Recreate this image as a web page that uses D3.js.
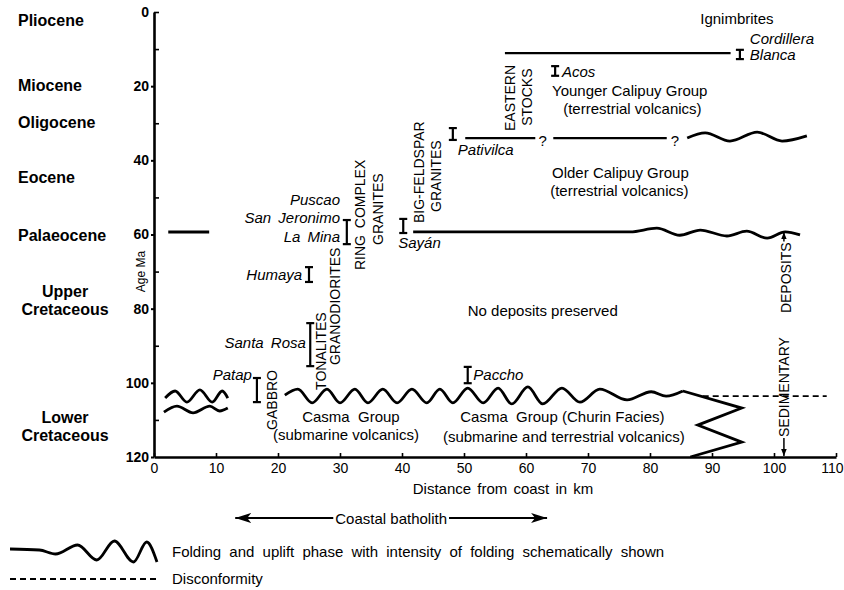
<!DOCTYPE html>
<html>
<head>
<meta charset="utf-8">
<script src="https://cdn.jsdelivr.net/npm/d3@7"></script>
<style>
  body { margin: 0; background: #fff; }
  svg text { font-family: "Liberation Sans", Arial, Helvetica, sans-serif; fill: #000; }
</style>
</head>
<body>
<div id="chart"></div>
<script>
// ---- data (km from coast, age in Ma) ----
var ageTicks = [0, 20, 40, 60, 80, 100, 120];
var ageMinor = [0, 10, 30, 50, 70, 90, 110];
var kmTicks = [0, 10, 20, 30, 40, 50, 60, 70, 80, 90, 100, 110];

var epochs = [
  {lines: ["Pliocene"], age: 3.8, center: false},
  {lines: ["Miocene"], age: 21.3, center: false},
  {lines: ["Oligocene"], age: 31.3, center: false},
  {lines: ["Eocene"], age: 46.1, center: false},
  {lines: ["Palaeocene"], age: 61.8, center: false},
  {lines: ["Upper", "Cretaceous"], age: 76.9, center: true},
  {lines: ["Lower", "Cretaceous"], age: 110.8, center: true}
];

// intrusion ages: I bars
var bars = [
  {name: "Patap", km: 16.6, from: 98.7, to: 105.2},
  {name: "Santa Rosa", km: 25.2, from: 83.9, to: 95.5},
  {name: "Humaya", km: 25.0, from: 68.8, to: 72.8},
  {name: "La Mina", km: 31.1, from: 56.1, to: 62.6},
  {name: "Sayán", km: 40.2, from: 55.8, to: 59.6},
  {name: "Pativilca", km: 48.2, from: 31.3, to: 34.5},
  {name: "Acos", km: 64.7, from: 14.6, to: 17.2},
  {name: "Cordillera Blanca", km: 94.5, from: 10.2, to: 12.7},
  {name: "Paccho", km: 50.6, from: 95.7, to: 100.1}
];

var plutonNames = [
  {text: "Patap", km: 15.8, age: 99.2, anchor: "end"},
  {text: "Santa Rosa", km: 24.5, age: 90.6, anchor: "end"},
  {text: "Humaya", km: 23.9, age: 72.3, anchor: "end"},
  {text: "Puscao", km: 30.0, age: 52.0, anchor: "end"},
  {text: "San Jeronimo", km: 30.0, age: 56.9, anchor: "end"},
  {text: "La Mina", km: 30.0, age: 62.0, anchor: "end"},
  {text: "Sayán", km: 39.4, age: 63.6, anchor: "start"},
  {text: "Pativilca", km: 49.0, age: 38.6, anchor: "start"},
  {text: "Acos", km: 65.8, age: 17.5, anchor: "start"},
  {text: "Cordillera", km: 96.1, age: 8.6, anchor: "start"},
  {text: "Blanca", km: 96.1, age: 12.9, anchor: "start"},
  {text: "Paccho", km: 51.5, age: 99.2, anchor: "start"}
];

// vertical names; "end" ones hang from their age instead of standing on it
var suites = [
  {text: "GABBRO", km: 19.0, age: 112.7, anchor: "start"},
  {text: "TONALITES", km: 26.9, age: 101.9, anchor: "start"},
  {text: "GRANODIORITES", km: 29.2, age: 95.2, anchor: "start"},
  {text: "RING COMPLEX", km: 33.2, age: 69.6, anchor: "start"},
  {text: "GRANITES", km: 36.1, age: 62.8, anchor: "start"},
  {text: "BIG-FELDSPAR", km: 42.7, age: 56.9, anchor: "start"},
  {text: "GRANITES", km: 45.5, age: 53.9, anchor: "start"},
  {text: "EASTERN", km: 57.4, age: 32.1, anchor: "start"},
  {text: "STOCKS", km: 60.2, age: 30.7, anchor: "start"},
  {text: "SEDIMENTARY", km: 101.6, age: 114.6, anchor: "start"},
  {text: "DEPOSITS", km: 101.9, age: 62.1, anchor: "end"}
];

var units = [
  {text: "Casma  Group", km: 23.9, age: 110.6},
  {text: "(submarine volcanics)", km: 19.2, age: 115.4},
  {text: "Casma  Group (Churin Facies)", km: 49.4, age: 110.6},
  {text: "(submarine and terrestrial volcanics)", km: 46.6, age: 116.0},
  {text: "No deposits preserved", km: 50.6, age: 82.0},
  {text: "Younger Calipuy Group", km: 64.2, age: 22.7},
  {text: "(terrestrial volcanics)", km: 66.0, age: 27.4},
  {text: "Older Calipuy Group", km: 64.2, age: 44.8},
  {text: "(terrestrial volcanics)", km: 63.9, age: 49.6},
  {text: "Ignimbrites", km: 88.1, age: 3.2}
];

var queries = [{km: 62.7, age: 36.0}, {km: 84.0, age: 36.0}];

// folding phases (crests and troughs) and contacts
var foldMain = [[21.1,103.3],[23.2,101.7],[25.5,105.4],[27.9,101.7],[30.0,105.4],[32.4,101.7],
  [34.5,105.4],[36.9,101.7],[39.2,105.4],[41.6,101.7],[44.0,105.4],[46.1,101.7],[48.2,105.4],
  [50.6,101.4],[53.1,105.4],[55.5,101.4],[57.7,105.7],[60.3,101.1],[62.7,105.7],[65.8,101.4],
  [68.7,105.2],[71.9,101.7],[76.3,104.6],[80.2,102.4],[82.6,103.6],[85.3,102.2]];
var foldCoastA = [[1.8,104.1],[3.4,102.2],[5.3,105.2],[7.4,101.9],[9.4,105.2],[11.0,102.2],[11.9,104.1]];
var foldCoastB = [[1.6,107.9],[3.7,106.3],[6.3,108.1],[9.0,106.3],[10.6,107.6],[11.9,106.8]];
var fold60 = [[41.8,59.3],[76.8,59.3],[81.1,58.3],[84.8,60.2],[88.1,58.8],[92.4,60.4],[95.6,59.1],
  [98.9,61.0],[101.8,59.3],[104.2,60.1]];
var fold34 = [[86.0,34.0],[88.9,32.6],[92.9,34.8],[97.3,32.4],[101.3,34.8],[105.3,33.4]];
var interfinger = [[85.3,102.2],[94.8,106.8],[87.7,111.4],[94.8,116.0],[86.5,120]];
var contacts = [
  [[2.3,59.3],[8.9,59.3]],
  [[50.2,34.0],[61.5,34.0]],
  [[64.4,34.0],[82.7,34.0]],
  [[56.6,11.1],[93.0,11.1]]
];
var disconformity = [[88.5,103.6],[108.5,103.6]];
var sediments = {km: 101.6, top: 59.4, textTop: 61.9, textBottom: 114.9, bottom: 120};
var batholith = {from: 13.1, to: 63.4};
var legendFold = [[0,3],[20,2],[31,-2],[46,7],[59,-8],[71,11],[84,-10],[93,10],[100,-10]];

// ---- drawing ----
var svg = d3.select("#chart").append("svg")
  .attr("width", 844)
  .attr("height", 590);

var defs = svg.append("defs");
defs.append("marker")
  .attr("id", "head")
  .attr("viewBox", "0 0 10 10")
  .attr("refX", 10).attr("refY", 5)
  .attr("markerWidth", 7).attr("markerHeight", 7)
  .attr("markerUnits", "userSpaceOnUse")
  .attr("orient", "auto-start-reverse")
  .append("path").attr("d", "M0,1L10,5L0,9Z").attr("fill", "#000");
defs.append("marker")
  .attr("id", "bighead")
  .attr("viewBox", "0 0 16 10")
  .attr("refX", 16).attr("refY", 5)
  .attr("markerWidth", 16).attr("markerHeight", 10)
  .attr("markerUnits", "userSpaceOnUse")
  .attr("orient", "auto-start-reverse")
  .append("path").attr("d", "M0,0L16,5L0,10L4,5Z").attr("fill", "#000");

var x = d3.scaleLinear().domain([0, 110]).range([154, 836]);
var y = d3.scaleLinear().domain([0, 120]).range([12, 457]);

// y axis
var gy = svg.append("g")
  .attr("transform", "translate(" + x(0) + ",0)")
  .call(d3.axisLeft(y).tickValues(ageTicks).tickSize(3).tickSizeOuter(0).tickPadding(2));
gy.select(".domain").attr("stroke-width", 2.6);
gy.selectAll(".tick line").attr("stroke-width", 2)
  .attr("display", function(d) { return d == 0 ? "none" : null; });
gy.selectAll(".tick text").style("font-size", "14px").style("font-weight", "bold");
svg.append("g")
  .attr("transform", "translate(" + x(0) + ",0)")
  .call(d3.axisRight(y).tickValues(ageMinor).tickSize(5).tickFormat(""))
  .call(function(g) { g.select(".domain").remove(); })
  .selectAll(".tick line").attr("stroke-width", 1.6);

// x axis
var gx = svg.append("g")
  .attr("transform", "translate(0," + y(120) + ")")
  .call(d3.axisBottom(x).tickValues(kmTicks).tickSizeInner(-4).tickSizeOuter(0).tickPadding(6));
gx.select(".domain").attr("stroke-width", 2.6);
gx.selectAll(".tick line").attr("stroke-width", 1.6);
gx.selectAll(".tick text").style("font-size", "14px")
  .attr("text-anchor", function(d) { return d == 110 ? "end" : "middle"; })
  .attr("dx", function(d) { return d == 110 ? 7 : 0; });

svg.append("text")
  .attr("x", (x(0) + x(110)) / 2 + 8)
  .attr("y", 494)
  .attr("text-anchor", "middle")
  .style("font-size", "15px")
  .style("word-spacing", "2px")
  .text("Distance from coast in km");

svg.append("text")
  .attr("transform", "translate(" + (x(0) - 9) + "," + y(70) + ") rotate(-90)")
  .attr("text-anchor", "middle")
  .style("font-size", "12px")
  .text("Age Ma");

// epoch names
epochs.forEach(function(e) {
  var t = svg.append("text")
    .attr("x", e.center ? 65 : 18)
    .attr("y", y(e.age))
    .attr("text-anchor", e.center ? "middle" : "start")
    .style("font-size", "16px")
    .style("font-weight", "bold");
  e.lines.forEach(function(l, i) {
    t.append("tspan").attr("x", e.center ? 65 : 18).attr("dy", i ? 18 : 0).text(l);
  });
});

var straight = d3.line().x(function(d) { return x(d[0]); }).y(function(d) { return y(d[1]); });
var wavy = d3.line().x(function(d) { return x(d[0]); }).y(function(d) { return y(d[1]); })
  .curve(d3.curveMonotoneX);

[foldMain, foldCoastA, foldCoastB, fold60, fold34].forEach(function(f) {
  svg.append("path").attr("d", wavy(f))
    .attr("fill", "none").attr("stroke", "#000").attr("stroke-width", 2.8);
});
svg.append("path").attr("d", straight(interfinger))
  .attr("fill", "none").attr("stroke", "#000").attr("stroke-width", 2.8)
  .attr("stroke-linejoin", "miter");
contacts.forEach(function(c, i) {
  svg.append("path").attr("d", straight(c))
    .attr("fill", "none").attr("stroke", "#000").attr("stroke-width", i == 0 ? 3 : 2.2);
});
svg.append("path").attr("d", straight(disconformity))
  .attr("fill", "none").attr("stroke", "#000").attr("stroke-width", 1.8)
  .attr("stroke-dasharray", "6,4");

// I bars
bars.forEach(function(b) {
  var g = svg.append("g").attr("stroke", "#000").attr("stroke-width", 2.2);
  g.append("line").attr("x1", x(b.km)).attr("x2", x(b.km)).attr("y1", y(b.from)).attr("y2", y(b.to));
  g.append("line").attr("x1", x(b.km) - 4).attr("x2", x(b.km) + 4).attr("y1", y(b.from)).attr("y2", y(b.from));
  g.append("line").attr("x1", x(b.km) - 4).attr("x2", x(b.km) + 4).attr("y1", y(b.to)).attr("y2", y(b.to));
});

plutonNames.forEach(function(p) {
  svg.append("text")
    .attr("x", x(p.km)).attr("y", y(p.age))
    .attr("text-anchor", p.anchor)
    .style("font-size", "15px")
    .style("font-style", "italic")
    .style("word-spacing", "3px")
    .text(p.text);
});

suites.forEach(function(s) {
  svg.append("text")
    .attr("transform", "translate(" + x(s.km) + "," + y(s.age) + ") rotate(-90)")
    .attr("text-anchor", s.anchor)
    .attr("dy", "0.36em")
    .style("font-size", "14px")
    .style("word-spacing", "3px")
    .text(s.text);
});

units.forEach(function(u) {
  svg.append("text")
    .attr("x", x(u.km)).attr("y", y(u.age))
    .style("font-size", "15px")
    .style("white-space", "pre")
    .text(u.text);
});

queries.forEach(function(q) {
  svg.append("text")
    .attr("x", x(q.km)).attr("y", y(q.age))
    .attr("text-anchor", "middle")
    .style("font-size", "15px")
    .text("?");
});

// sedimentary deposits arrows
svg.append("line")
  .attr("x1", x(sediments.km)).attr("x2", x(sediments.km))
  .attr("y1", y(sediments.textTop)).attr("y2", y(sediments.top))
  .attr("stroke", "#000").attr("stroke-width", 1.5)
  .attr("marker-end", "url(#head)");
svg.append("line")
  .attr("x1", x(sediments.km)).attr("x2", x(sediments.km))
  .attr("y1", y(sediments.textBottom)).attr("y2", y(sediments.bottom) - 1)
  .attr("stroke", "#000").attr("stroke-width", 1.5)
  .attr("marker-end", "url(#head)");

// coastal batholith
var bathY = 518;
var bc = (x(batholith.from) + x(batholith.to)) / 2;
var bt = svg.append("text")
  .attr("x", bc)
  .attr("y", bathY + 6)
  .attr("text-anchor", "middle")
  .style("font-size", "15px")
  .text("Coastal batholith");
var bw = bt.node().getComputedTextLength();
svg.append("line")
  .attr("x1", bc - bw / 2 - 2).attr("x2", x(batholith.from))
  .attr("y1", bathY).attr("y2", bathY)
  .attr("stroke", "#000").attr("stroke-width", 1.8)
  .attr("marker-end", "url(#bighead)");
svg.append("line")
  .attr("x1", bc + bw / 2 + 2).attr("x2", x(batholith.to))
  .attr("y1", bathY).attr("y2", bathY)
  .attr("stroke", "#000").attr("stroke-width", 1.8)
  .attr("marker-end", "url(#bighead)");

// legend
var lx = d3.scaleLinear().domain([0, 100]).range([10, 157]);
var ly = d3.scaleLinear().domain([-10, 10]).range([562, 542]);
svg.append("path")
  .attr("d", d3.line().x(function(d) { return lx(d[0]); }).y(function(d) { return ly(d[1]); })
    .curve(d3.curveMonotoneX)(legendFold))
  .attr("fill", "none").attr("stroke", "#000").attr("stroke-width", 2.8);
svg.append("text")
  .attr("x", 172).attr("y", 557)
  .style("font-size", "15px")
  .style("word-spacing", "4px")
  .text("Folding and uplift phase with intensity of folding schematically shown");
svg.append("line")
  .attr("x1", lx(0)).attr("x2", lx(100))
  .attr("y1", 579).attr("y2", 579)
  .attr("stroke", "#000").attr("stroke-width", 1.8)
  .attr("stroke-dasharray", "6,4");
svg.append("text")
  .attr("x", 172).attr("y", 584)
  .style("font-size", "15px")
  .text("Disconformity");
</script>
</body>
</html>
